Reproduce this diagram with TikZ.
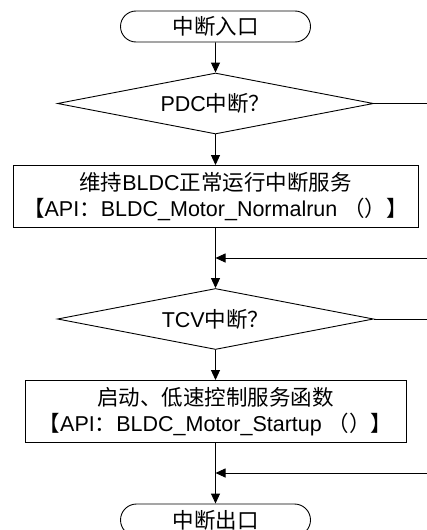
\documentclass[tikz,border=0pt]{standalone}
\usepackage{fontspec}
\setmainfont{Liberation Sans}
\newfontfamily\cjk{Noto Sans CJK SC}
\newcommand{\zh}[1]{{\cjk #1}}
\usetikzlibrary{arrows.meta,positioning,shapes.geometric,shapes.misc}

\tikzset{
  flow/.style={line width=0.9pt},
  term/.style={rounded rectangle, draw, flow, minimum width=190pt, minimum height=31pt, inner sep=0pt},
  decision/.style={diamond, draw, flow, aspect=5.2, minimum width=316pt, minimum height=61pt, inner sep=0pt},
  proc/.style={rectangle, draw, flow, minimum height=62pt, align=center, inner sep=0pt},
}

\begin{document}
\begin{tikzpicture}[x=1pt,y=-1pt,on grid,>={Triangle[length=10pt,width=9pt]},
    font=\fontsize{21.5}{26}\selectfont]
            \useasboundingbox (0,0) rectangle (427,530);
            \clip (0,0) rectangle (427,530);
            \node[term] (start) at (215.5,26.5) {\zh{中断入口}};
            \node[decision] (pdc) [below=77pt of start] {PDC\zh{中断？}};
            \node[proc, minimum width=405pt] (svc1) [below=93pt of pdc]
                {\zh{维持}BLDC\zh{正常运行中断服务}\\\zh{【}API\zh{：}BLDC\_Motor\_Normalrun \zh{（）}\zh{】}};
            \node[decision] (tcv) [below=122.5pt of svc1] {TCV\zh{中断？}};
            \node[proc, minimum width=381pt] (svc2) [below=92.5pt of tcv]
                {\zh{启动、低速控制服务函数}\\\zh{【}API\zh{：}BLDC\_Motor\_Startup \zh{（）}\zh{】}};
            \node[term, minimum height=32pt] (stop) [below=108.5pt of svc2] {\zh{中断出口}};
            % branches leaving / entering at the right edge
            \coordinate (in1) at (427,258);
            \coordinate (in2) at (427,473);
            \coordinate (j1) at (svc1 |- in1);
            \coordinate (j2) at (svc2 |- in2);
            \coordinate (out1) at (pdc.east -| in1);
            \coordinate (out2) at (tcv.east -| in1);
            \path[->, flow]
                (start) edge (pdc)
                (pdc) edge (svc1)
                (svc1) edge (tcv)
                (tcv) edge (svc2)
                (svc2) edge (stop)
                (in1) edge (j1)
                (in2) edge (j2);
            \draw[flow] (pdc.east) -- (out1);
            \draw[flow] (tcv.east) -- (out2);
        \end{tikzpicture}
\end{document}
